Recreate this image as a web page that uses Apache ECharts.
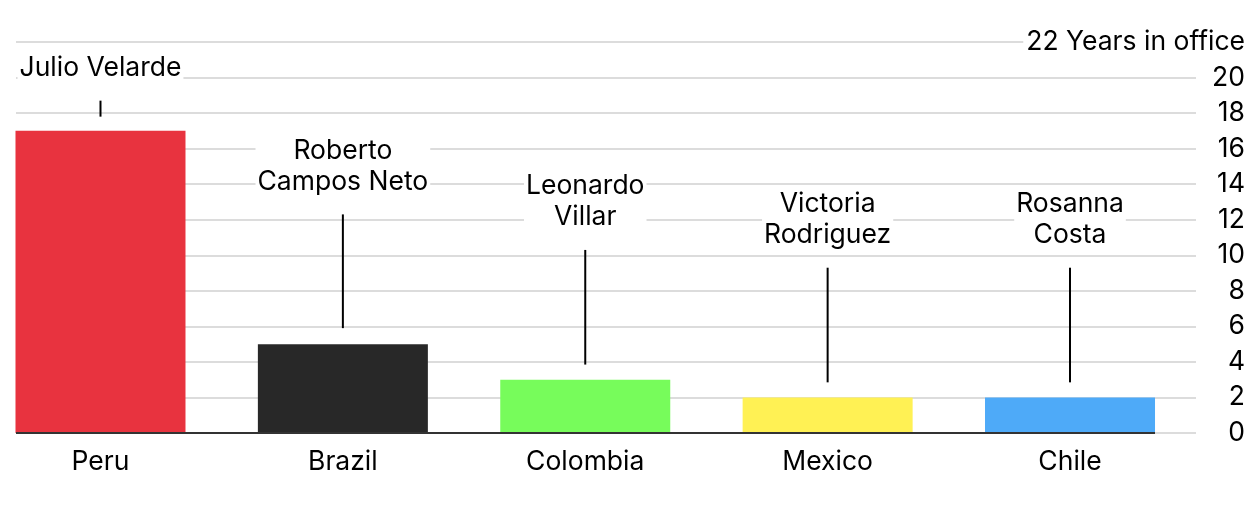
<!DOCTYPE html>
<html><head><meta charset="utf-8">
<script src="https://cdn.jsdelivr.net/npm/echarts@6/dist/echarts.min.js"></script>
<style>html,body{margin:0;padding:0;background:#fff}#c{width:1260px;height:506px}</style>
</head><body><div id="c"></div>
<script>
const categories = ['Peru', 'Brazil', 'Colombia', 'Mexico', 'Chile'];
const governors = ['Julio Velarde', 'Roberto\nCampos Neto', 'Leonardo\nVillar', 'Victoria\nRodriguez', 'Rosanna\nCosta'];
const yearsInOffice = [17, 5, 3, 2, 2];
const barColors = ['#e8333f', '#282828', '#77fc5b', '#fff154', '#4eaaf8'];
const leaderBottom = [17.8, 5.9, 3.85, 2.85, 2.85];
const leaderTop = [18.7, 12.3, 10.3, 9.3, 9.3];
const yTicks = [0, 2, 4, 6, 8, 10, 12, 14, 16, 18, 20, 22];
const unitLabel = 'Years in office';

const FONT = 'Inter';
const FS = 26.5;
const chart = echarts.init(document.getElementById('c'), null, {renderer: 'canvas'});
chart.setOption({
  animation: false,
  backgroundColor: '#fff',
  grid: {left: 16, right: 64, top: 42, bottom: 73},
  xAxis: {type: 'value', min: -0.3486, max: 4.5198, show: false},
  yAxis: {
    type: 'value', position: 'right', min: yTicks[0], max: yTicks[yTicks.length - 1], interval: 2,
    axisLine: {show: false}, axisTick: {show: false},
    splitLine: {show: true, lineStyle: {color: '#dcdcdc', width: 2}},
    axisLabel: {
      align: 'right', margin: 49, color: '#000', fontFamily: FONT, fontSize: FS,
      backgroundColor: '#fff', padding: [4, 0, 0, 3],
      formatter: v => v === yTicks[yTicks.length - 1] ? v + ' ' + unitLabel : String(v)
    }
  },
  series: [
    {
      type: 'bar', barWidth: 170,
      data: yearsInOffice.map((v, i) => ({value: [i, v], itemStyle: {color: barColors[i]}})),
      label: {
        show: true, position: 'bottom', distance: 16, color: '#000', fontFamily: FONT, fontSize: FS,
        formatter: p => categories[p.dataIndex]
      },
      markLine: {
        silent: true, symbol: 'none', label: {show: false},
        lineStyle: {color: '#333', width: 2, type: 'solid'},
        data: [[{coord: [-0.3486, 0]}, {coord: [4.3506, 0]}]]
      },
      z: 2
    },
    {
      type: 'custom', z: 5,
      data: categories.map((c, i) => [i, leaderBottom[i], leaderTop[i]]),
      renderItem: (params, api) => {
        const i = params.dataIndex;
        const p0 = api.coord([api.value(0), api.value(1)]);
        const p1 = api.coord([api.value(0), api.value(2)]);
        return {
          type: 'group',
          children: [
            {type: 'line', shape: {x1: p0[0], y1: p0[1], x2: p1[0], y2: p1[1]}, style: {stroke: '#000', lineWidth: 2}},
            {type: 'text', x: p1[0], y: p1[1] - 17, style: {
              text: governors[i], fill: '#000', font: FS + 'px ' + FONT, align: 'center', verticalAlign: 'bottom',
              lineHeight: 31, backgroundColor: '#fff', padding: [0, 2]
            }}
          ]
        };
      }
    }
  ]
});
</script></body></html>
